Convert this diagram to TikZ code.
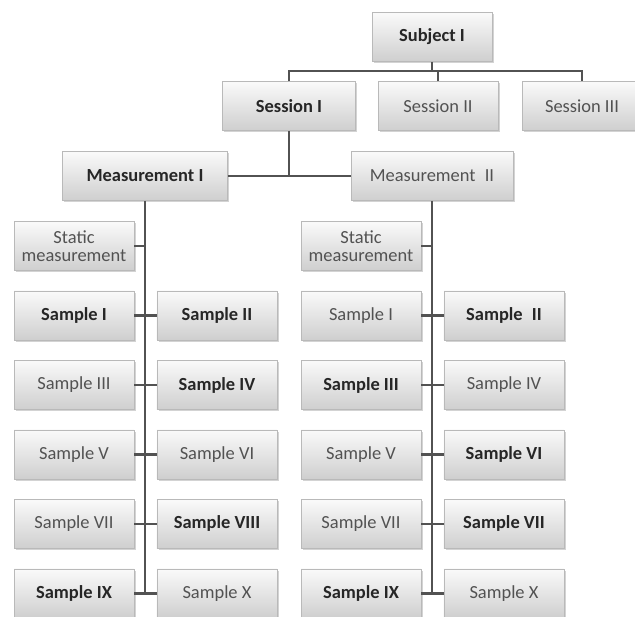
\documentclass[tikz,border=0pt]{standalone}
\usepackage{fontspec}
\setmainfont{Carlito}
\usetikzlibrary{positioning, shadows}
\tikzset{
    box/.style={draw=gray!55, top color=gray!4, bottom color=gray!38, minimum width=2.4cm, minimum height=0.98cm, align=center, text=black!68, font=\fontsize{10.5}{10}\selectfont, drop shadow={shadow xshift=1pt, shadow yshift=-1pt, opacity=0.35}}, % shaded box with a regular label
    bbox/.style={box, text=black!85, font=\fontsize{10.5}{10}\selectfont\bfseries}, % same box, bold label
    link/.style={draw=black!68, line width=1.6pt}, % the tree lines
    node distance=1.39cm, % row spacing of the sample boxes
}
\begin{document}
\begin{tikzpicture}[x=0.02cm, y=-0.02cm]
    \useasboundingbox (0,0) rectangle (635,616);
    \clip (0,0) rectangle (635,616);
    % top levels
    \node[bbox] (subj) at (432,37) {Subject I};
    \node[bbox, minimum width=2.66cm] (ses1) at (289,106) {Session I};
    \node[box] (ses2) at (438,106) {Session II};
    \node[box] (ses3) at (582,106) {Session III};
    \node[bbox, minimum width=3.3cm] (meas1) at (145,176) {Measurement I};
    \node[box, minimum width=3.24cm] (meas2) at (432,176) {Measurement\enspace II};
    % first measurement
    \node[box] (stat1) at (74,246) {Static\\measurement};
    \node[bbox, below of=stat1] (m1s1) {Sample I};
    \node[bbox, node distance=2.86cm, right of=m1s1] (m1s2) {Sample II};
    \node[box, below of=m1s1] (m1s3) {Sample III};
    \node[bbox, node distance=2.86cm, right of=m1s3] (m1s4) {Sample IV};
    \node[box, below of=m1s3] (m1s5) {Sample V};
    \node[box, node distance=2.86cm, right of=m1s5] (m1s6) {Sample VI};
    \node[box, below of=m1s5] (m1s7) {Sample VII};
    \node[bbox, node distance=2.86cm, right of=m1s7] (m1s8) {Sample VIII};
    \node[bbox, below of=m1s7] (m1s9) {Sample IX};
    \node[box, node distance=2.86cm, right of=m1s9] (m1s10) {Sample X};
    % second measurement
    \node[box] (stat2) at (361,246) {Static\\measurement};
    \node[box, below of=stat2] (m2s1) {Sample I};
    \node[bbox, node distance=2.86cm, right of=m2s1] (m2s2) {Sample\enspace II};
    \node[bbox, below of=m2s1] (m2s3) {Sample III};
    \node[box, node distance=2.86cm, right of=m2s3] (m2s4) {Sample IV};
    \node[box, below of=m2s3] (m2s5) {Sample V};
    \node[bbox, node distance=2.86cm, right of=m2s5] (m2s6) {Sample VI};
    \node[box, below of=m2s5] (m2s7) {Sample VII};
    \node[bbox, node distance=2.86cm, right of=m2s7] (m2s8) {Sample VII};
    \node[bbox, below of=m2s7] (m2s9) {Sample IX};
    \node[box, node distance=2.86cm, right of=m2s9] (m2s10) {Sample X};
    % tree lines
    \coordinate (bus) at (432,71);
    \draw[link] (subj) -- (subj |- bus);
    \draw[link] (ses1.north) |- (bus) -| (ses3.north);
    \draw[link] (ses2.north) -- (ses2.north |- bus);
    \draw[link] (ses1.south) -- (ses1.south |- meas1.east);
    \draw[link] (meas1.east) -- (meas2.west);
    \draw[link] (meas1.south) -- (meas1.south |- m1s9.east);
    \draw[link] (meas2.south) -- (meas2.south |- m2s9.east);
    \draw[link] (stat1.east) -- (stat1.east -| meas1.south);
    \draw[link] (stat2.east) -- (stat2.east -| meas2.south);
    \draw[link] (m1s1.east) -- (m1s2.west);
    \draw[link] (m1s3.east) -- (m1s4.west);
    \draw[link] (m1s5.east) -- (m1s6.west);
    \draw[link] (m1s7.east) -- (m1s8.west);
    \draw[link] (m1s9.east) -- (m1s10.west);
    \draw[link] (m2s1.east) -- (m2s2.west);
    \draw[link] (m2s3.east) -- (m2s4.west);
    \draw[link] (m2s5.east) -- (m2s6.west);
    \draw[link] (m2s7.east) -- (m2s8.west);
    \draw[link] (m2s9.east) -- (m2s10.west);
\end{tikzpicture}
\end{document}
